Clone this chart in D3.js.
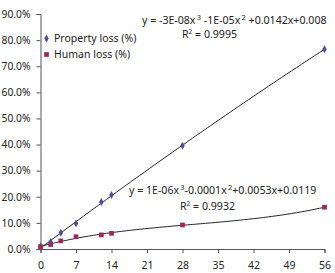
<!DOCTYPE html>
<html>
<head>
<meta charset="utf-8">
<script src="https://cdn.jsdelivr.net/npm/d3@7/dist/d3.min.js"></script>
<style>
  body { margin: 0; background: #fff; }
  svg text { font-family: "Noto Sans", "DejaVu Sans", sans-serif; fill: #222; }
</style>
</head>
<body>
<svg id="chart" width="335" height="273"></svg>
<script>
// values (x = day, y = % loss)
var days = [0, 2, 4, 7, 12, 14, 28, 56];
var propertyLoss = [1.0, 2.7, 6.2, 9.8, 18.0, 20.7, 39.6, 76.5];
var humanLoss = [0.9, 1.7, 3.1, 4.7, 5.4, 6.0, 9.2, 16.0];
var xTicks = [0, 7, 14, 21, 28, 35, 42, 49, 56];
var yTicks = [0, 10, 20, 30, 40, 50, 60, 70, 80, 90];
var seriesNames = ["Property loss (%)", "Human loss (%)"];
var equations = [
    {parts: ["y = -3E-08x", "3", " -1E-05x", "2", " +0.0142x+0.008"], r2: "0.9995"},
    {parts: ["y = 1E-06x", "3", "-0.0001x", "2", "+0.0053x+0.0119"], r2: "0.9932"}
];

var colors = ["#4f4f9c", "#9c2857"];

var svg = d3.select("#chart");
var margin = {top: 14, right: 10.5, bottom: 24, left: 40.5};
var W = 335, H = 273;

var x = d3.scaleLinear().domain([0, 56]).range([margin.left, W - margin.right]);
var y = d3.scaleLinear().domain([0, 90]).range([H - margin.bottom, margin.top]);

// cubic least squares, like the excel trendline
function polyFit(xs, ys, deg) {
    var n = deg + 1, A = [], b = [];
    for (var i = 0; i < n; i++) {
        A.push([]);
        for (var j = 0; j < n; j++) {
            A[i].push(d3.sum(xs, function(v){ return Math.pow(v, i + j); }));
        }
        b.push(d3.sum(xs, function(v, k){ return ys[k] * Math.pow(v, i); }));
    }
    // gauss elimination
    for (var c = 0; c < n; c++) {
        var p = c;
        for (var r = c + 1; r < n; r++) if (Math.abs(A[r][c]) > Math.abs(A[p][c])) p = r;
        var t = A[c]; A[c] = A[p]; A[p] = t;
        var tb = b[c]; b[c] = b[p]; b[p] = tb;
        for (var r2 = c + 1; r2 < n; r2++) {
            var f = A[r2][c] / A[c][c];
            for (var k = c; k < n; k++) A[r2][k] -= f * A[c][k];
            b[r2] -= f * b[c];
        }
    }
    var coef = new Array(n);
    for (var i2 = n - 1; i2 >= 0; i2--) {
        var s = b[i2];
        for (var j2 = i2 + 1; j2 < n; j2++) s -= A[i2][j2] * coef[j2];
        coef[i2] = s / A[i2][i2];
    }
    return coef;
}

// axes
var yAxis = svg.append("g").attr("transform", "translate(" + margin.left + ",0)")
    .call(d3.axisLeft(y).tickValues(yTicks).tickSize(4).tickPadding(6)
        .tickFormat(function(d){ return d.toFixed(1) + "%"; }));
var xAxis = svg.append("g").attr("transform", "translate(0," + (H - margin.bottom) + ")")
    .call(d3.axisBottom(x).tickValues(xTicks).tickSize(4).tickPadding(8.5));
[xAxis, yAxis].forEach(function(a){
    a.selectAll("path, line").attr("stroke", "#555");
    a.selectAll("text").attr("fill", "#222");
});
yAxis.selectAll("text").style("font-size", "10.3px");
xAxis.selectAll("text").style("font-size", "10.5px");

// trend lines
var series = [propertyLoss, humanLoss];
series.forEach(function(vals){
    var c = polyFit(days, vals, 3);
    var pts = d3.range(0, 56.01, 0.5).map(function(v){
        return [v, c[0] + c[1]*v + c[2]*v*v + c[3]*v*v*v];
    });
    svg.append("path")
        .attr("d", d3.line().x(function(d){ return x(d[0]); }).y(function(d){ return y(d[1]); })(pts))
        .attr("fill", "none").attr("stroke", "#222").attr("stroke-width", 1);
});

// markers
var diamond = d3.symbol().type(d3.symbolDiamond).size(18);
var square = d3.symbol().type(d3.symbolSquare).size(22);
svg.append("g").selectAll("path").data(days).join("path")
    .attr("d", diamond)
    .attr("transform", function(d, i){ return "translate(" + x(d) + "," + y(propertyLoss[i]) + ")"; })
    .attr("fill", colors[0]);
svg.append("g").selectAll("path").data(days).join("path")
    .attr("d", square)
    .attr("transform", function(d, i){ return "translate(" + x(d) + "," + y(humanLoss[i]) + ")"; })
    .attr("fill", colors[1]);

// legend
var leg = svg.append("g").attr("transform", "translate(46.5,38.5)");
leg.append("path").attr("d", diamond).attr("fill", colors[0]);
leg.append("path").attr("d", square).attr("fill", colors[1]).attr("transform", "translate(0,16)");
seriesNames.forEach(function(name, i){
    leg.append("text").attr("x", 7.5).attr("y", i * 16 + 3.8)
        .style("font-size", "10.5px").text(name);
});

// equations
var eqPos = [{x: 142, y: 24, rx: 182, ry: 38}, {x: 129, y: 194, rx: 180, ry: 210}];
equations.forEach(function(eq, i){
    var t = svg.append("text").attr("x", eqPos[i].x).attr("y", eqPos[i].y).style("font-size", "10.6px");
    eq.parts.forEach(function(p, k){
        var sup = (k % 2 == 1);
        t.append("tspan").text(sup ? "\u2009" + p : p)
            .attr("dy", sup ? -4.5 : (k > 0 ? 4.5 : 0))
            .style("font-size", sup ? "7.5px" : "10.6px");
    });
    var r = svg.append("text").attr("x", eqPos[i].rx).attr("y", eqPos[i].ry).style("font-size", "10.6px");
    r.append("tspan").text("R");
    r.append("tspan").text("2").attr("dy", -4.5).style("font-size", "6.5px");
    r.append("tspan").text(" = " + eq.r2).attr("dy", 4.5);
});
</script>
</body>
</html>
